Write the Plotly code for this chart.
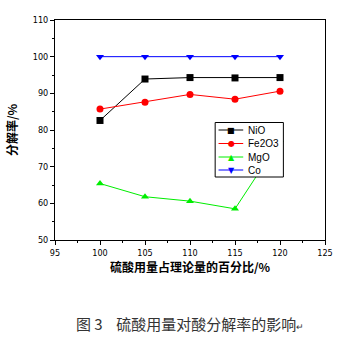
import plotly.graph_objects as go

x_vals = [100, 105, 110, 115, 120]
nio = [82.6, 93.9, 94.3, 94.2, 94.3]
fe2o3 = [85.7, 87.6, 89.7, 88.4, 90.6]
mgo = [65.4, 61.8, 60.6, 58.5, 77.2]
co = [100, 100, 100, 100, 100]

series_names = ["NiO", "Fe2O3", "MgO", "Co"]
series_data = [nio, fe2o3, mgo, co]
series_colors = ["black", "red", "#00ee00", "blue"]
series_symbols = ["square", "circle", "triangle-up", "triangle-down"]
legend_glyphs = ["■", "●", "▲", "▼"]

W, H = 351, 341
ML, MR, MT, MB = 46, 26, 20, 101
PW, PH = W - ML - MR, H - MT - MB


def px(x):
    return (x - ML) / PW


def py(y):
    return (H - MB - y) / PH


fig = go.Figure()
for name, ys, col, sym in zip(series_names, series_data, series_colors, series_symbols):
    fig.add_trace(go.Scatter(
        x=x_vals, y=ys, name=name, mode="lines+markers",
        line=dict(color=col, width=1),
        marker=dict(color=col, symbol=sym, size=7),
        showlegend=False,
    ))

axis_font = dict(family="Liberation Sans Narrow, Arial Narrow, DejaVu Sans Condensed", size=9, color="black")
fig.update_layout(
    width=W, height=H,
    margin=dict(l=ML, r=MR, t=MT, b=MB),
    paper_bgcolor="white", plot_bgcolor="white",
    xaxis=dict(
        range=[95, 125], tickvals=[95, 100, 105, 110, 115, 120, 125],
        ticks="outside", ticklen=4, tickcolor="black", tickwidth=1,
        showline=True, linecolor="black", linewidth=1, mirror=True,
        showgrid=False, zeroline=False, tickfont=axis_font,
        minor=dict(dtick=2.5, ticks="outside", ticklen=2, tickcolor="black"),
        title=dict(text="<b>硫酸用量占理论量的百分比/%</b>",
                   font=dict(family="Noto Sans CJK SC", size=12, color="black"), standoff=6),
    ),
    yaxis=dict(
        range=[50, 110], tickvals=[50, 60, 70, 80, 90, 100, 110],
        ticks="outside", ticklen=4, tickcolor="black", tickwidth=1,
        showline=True, linecolor="black", linewidth=1, mirror=True,
        showgrid=False, zeroline=False, tickfont=axis_font,
        minor=dict(dtick=5, ticks="outside", ticklen=2, tickcolor="black"),
        title=dict(text="<b>分解率/%</b>",
                   font=dict(family="Noto Sans CJK SC", size=12, color="black"), standoff=12),
    ),
)

# custom compact legend box
fig.add_shape(type="rect", xref="paper", yref="paper",
              x0=px(211.5), x1=px(282), y0=py(177), y1=py(122.5),
              line=dict(color="black", width=1), fillcolor="white", layer="above")
item_y = [130, 143.5, 157, 170]
for name, col, glyph, yy in zip(series_names, series_colors, legend_glyphs, item_y):
    fig.add_shape(type="line", xref="paper", yref="paper",
                  x0=px(215), x1=px(240.5), y0=py(yy), y1=py(yy),
                  line=dict(color=col, width=1), layer="above")
    fig.add_annotation(text=glyph, xref="paper", yref="paper",
                       x=px(228), y=py(yy), xanchor="center", yanchor="middle",
                       showarrow=False, font=dict(family="DejaVu Sans", size=8, color=col))
    fig.add_annotation(text=name, xref="paper", yref="paper",
                       x=px(243), y=py(yy), xanchor="left", yanchor="middle",
                       showarrow=False, font=dict(family="Arial, Liberation Sans", size=10, color="black"))

fig.add_annotation(
    text="图 3    硫酸用量对酸分解率的影响<span style='font-size:9px'>↵</span>",
    xref="paper", yref="paper", x=0.5, y=py(323), xanchor="center", yanchor="middle",
    showarrow=False,
    font=dict(family="Noto Sans CJK SC", size=15, color="#333333"),
)

fig.write_html("out.html")
